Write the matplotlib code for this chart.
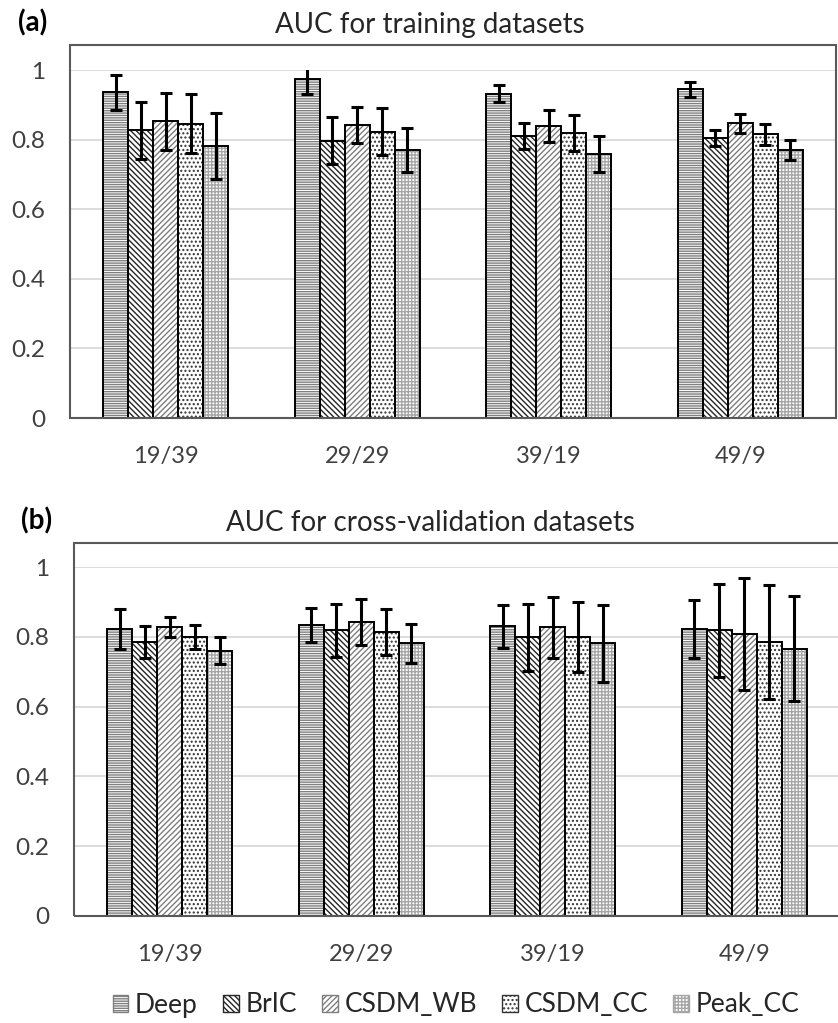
import numpy as np
import matplotlib
matplotlib.use('Agg')
import matplotlib.pyplot as plt
from matplotlib.patches import Rectangle, Patch

plt.rcParams['font.family'] = ['Lato', 'DejaVu Sans']
plt.rcParams['hatch.linewidth'] = 1.0

# data
groups = ['19/39', '29/29', '39/19', '49/9']
methods = ['Deep', 'BrIC', 'CSDM_WB', 'CSDM_CC', 'Peak_CC']

# (a) training
train_deep = [0.936, 0.974, 0.932, 0.944]
train_bric = [0.827, 0.797, 0.811, 0.804]
train_wb = [0.853, 0.842, 0.838, 0.847]
train_cc = [0.846, 0.823, 0.819, 0.815]
train_peak = [0.782, 0.770, 0.759, 0.770]
train_deep_err = [0.051, 0.043, 0.025, 0.021]
train_bric_err = [0.082, 0.067, 0.038, 0.023]
train_wb_err = [0.082, 0.053, 0.046, 0.027]
train_cc_err = [0.085, 0.068, 0.053, 0.031]
train_peak_err = [0.094, 0.062, 0.051, 0.030]

# (b) cross-validation
cv_deep = [0.823, 0.834, 0.830, 0.823]
cv_bric = [0.785, 0.819, 0.799, 0.819]
cv_wb = [0.827, 0.842, 0.827, 0.808]
cv_cc = [0.800, 0.815, 0.799, 0.785]
cv_peak = [0.760, 0.781, 0.781, 0.766]
cv_deep_err = [0.058, 0.049, 0.061, 0.083]
cv_bric_err = [0.047, 0.076, 0.096, 0.133]
cv_wb_err = [0.029, 0.066, 0.087, 0.160]
cv_cc_err = [0.034, 0.066, 0.100, 0.162]
cv_peak_err = [0.038, 0.055, 0.111, 0.150]

yticks = [0, 0.2, 0.4, 0.6, 0.8, 1]
ytick_labels = ['0', '0.2', '0.4', '0.6', '0.8', '1']

hatches = ['-------', '\\' * 6, '/' * 6, '....', '+++++']
hatch_cols = ['#7f7f7f', '#262626', '#7f7f7f', '#333333', '#a6a6a6']

W, H = 838, 1023
fig = plt.figure(figsize=(W / 100, H / 100), dpi=100)


def fx(px):
    return px / W


def fy(py):
    return 1 - py / H


def panel(left, right, top_box, zero_y, one_y, means, errs, label, title):
    ax = fig.add_axes([fx(left), fy(zero_y), fx(right - left), (zero_y - one_y) / H])
    x = np.arange(len(groups))
    w = 0.1308
    for j in range(len(methods)):
        xs = x + (j - 2) * w
        ax.bar(xs, means[j], w, color='white', edgecolor=hatch_cols[j],
               hatch=hatches[j], linewidth=0, zorder=2)
        ax.bar(xs, means[j], w, fill=False, edgecolor='black', linewidth=1.4, zorder=3)
        ax.errorbar(xs, means[j], yerr=errs[j], fmt='none', ecolor='black',
                    elinewidth=2.2, capsize=4, capthick=2.2, zorder=4)
    ax.set_xlim(-0.5, len(groups) - 0.5)
    ax.set_ylim(0, 1)
    ax.set_xticks(x)
    ax.set_xticklabels(groups, fontsize=17, color='#404040')
    ax.set_yticks(yticks)
    ax.set_yticklabels(ytick_labels, fontsize=17.5, color='#404040')
    ax.tick_params(axis='both', length=0)
    ax.tick_params(axis='y', pad=18)
    ax.tick_params(axis='x', pad=20)
    ax.yaxis.grid(True, color='#d9d9d9', linewidth=1.3)
    ax.set_axisbelow(True)
    for s in ax.spines.values():
        s.set_visible(False)
    # box around the plot area
    fig.add_artist(Rectangle((fx(left), fy(zero_y)), fx(right - left), (zero_y - top_box) / H,
                             transform=fig.transFigure, fill=False,
                             edgecolor='#595959', linewidth=1.5, zorder=5))
    fig.text(fx(left - 37), fy(top_box - 22), label, fontsize=20, fontweight='bold',
             ha='center', va='center')
    fig.text(fx(430), fy(top_box - 20), title, fontsize=20, ha='center', va='center',
             color='#262626')
    return ax


train_means = [train_deep, train_bric, train_wb, train_cc, train_peak]
train_errs = [train_deep_err, train_bric_err, train_wb_err, train_cc_err, train_peak_err]
cv_means = [cv_deep, cv_bric, cv_wb, cv_cc, cv_peak]
cv_errs = [cv_deep_err, cv_bric_err, cv_wb_err, cv_cc_err, cv_peak_err]

panel(70, 836, 45, 418, 70, train_means, train_errs, '(a)', 'AUC for training datasets')
panel(74, 840, 543, 916, 567, cv_means, cv_errs, '(b)', 'AUC for cross-validation datasets')

handles = [Patch(facecolor='white', edgecolor=hatch_cols[j], hatch=hatches[j], linewidth=1)
           for j in range(len(methods))]
fig.legend(handles, methods, loc='center', bbox_to_anchor=(fx(456), fy(1005)), ncol=5,
           frameon=False, fontsize=19, handlelength=0.6, handleheight=0.6,
           handletextpad=0.25, columnspacing=0.95, labelcolor='#262626')

fig.savefig('out.png', dpi=100)
